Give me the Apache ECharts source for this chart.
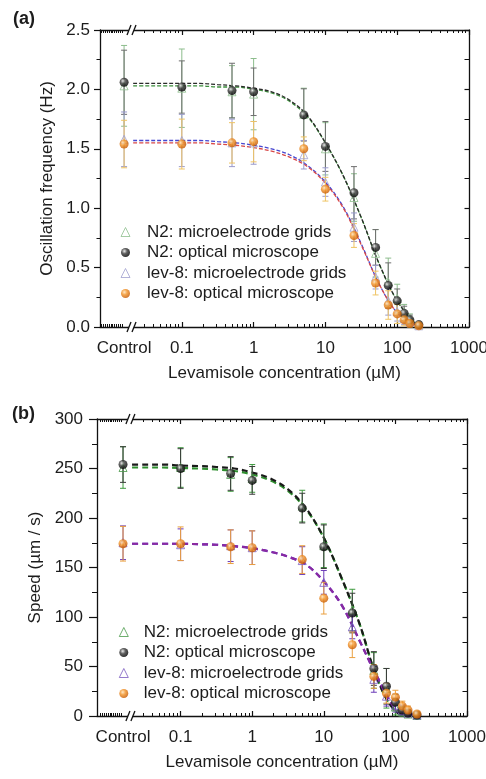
<!DOCTYPE html>
<html>
<head>
<meta charset="utf-8">
<script src="https://cdn.jsdelivr.net/npm/echarts@6/dist/echarts.min.js"></script>
<style>html,body{margin:0;padding:0;background:#fff}#c{width:486px;height:779px}</style>
</head>
<body>
<div id="c"></div>
<script>
// ---------------- data ----------------
const CONTROL = 0.0157;          // where "Control" sits on the log concentration axis
const conc = [CONTROL, 0.1, 0.5, 1, 5, 10, 25, 50, 75, 100, 125, 150, 200];
const fitConc = [0.021, 0.0316, 0.0562, 0.1, 0.178, 0.316, 0.562, 1, 1.78, 3.16, 5.62, 10, 17.8, 31.6, 56.2, 100, 178, 215];
const xTickVals = [CONTROL, 0.1, 1, 10, 100, 1000];
const xTickText = ['Control', '0.1', '1', '10', '100', '1000'];
const majorX = [0.1, 1, 10, 100, 1000];

const seriesNames = ['N2: microelectrode grids', 'N2: optical microscope', 'lev-8: microelectrode grids', 'lev-8: optical microscope'];

// (a) Oscillation frequency (Hz)
const freqN2Micro   = [2.03, 2.01, 1.98, 1.96, 1.79, 1.50, 1.09, 0.62, 0.38, 0.24, 0.12, 0.07, 0.02];
const freqN2MicroE  = [0.34, 0.33, 0.22, 0.30, 0.22, 0.22, 0.20, 0.20, 0.20, 0.12, 0.07, 0.04, 0.02];
const freqN2Opt     = [2.06, 2.02, 1.99, 1.98, 1.785, 1.52, 1.13, 0.67, 0.35, 0.22, 0.115, 0.06, 0.02];
const freqN2OptE    = [0.27, 0.22, 0.23, 0.20, 0.22, 0.21, 0.22, 0.15, 0.19, 0.10, 0.06, 0.04, 0.02];
const freqL8Micro   = [1.58, 1.57, 1.55, 1.55, 1.45, 1.22, 0.84, 0.42, 0.22, 0.13, 0.07, 0.04, 0.01];
const freqL8MicroE  = [0.23, 0.22, 0.20, 0.18, 0.12, 0.12, 0.12, 0.10, 0.12, 0.08, 0.05, 0.03, 0.02];
const freqL8Opt     = [1.54, 1.54, 1.55, 1.56, 1.50, 1.16, 0.77, 0.37, 0.185, 0.11, 0.06, 0.03, 0.01];
const freqL8OptE    = [0.20, 0.21, 0.17, 0.17, 0.10, 0.10, 0.10, 0.10, 0.12, 0.08, 0.05, 0.03, 0.02];
// fitted curves (a), read at fitConc
const freqFitN2Micro = [2.03, 2.03, 2.03, 2.03, 2.03, 2.02, 2.02, 2.00, 1.97, 1.90, 1.77, 1.55, 1.27, 0.92, 0.53, 0.22, 0.03, 0.0];
const freqFitN2Opt   = [2.05, 2.05, 2.05, 2.05, 2.05, 2.04, 2.03, 2.01, 1.98, 1.91, 1.78, 1.55, 1.27, 0.92, 0.53, 0.22, 0.03, 0.0];
const freqFitL8Micro = [1.57, 1.57, 1.57, 1.57, 1.57, 1.56, 1.55, 1.53, 1.50, 1.45, 1.36, 1.22, 1.01, 0.70, 0.36, 0.12, 0.02, 0.0];
const freqFitL8Opt   = [1.55, 1.55, 1.55, 1.55, 1.55, 1.54, 1.53, 1.51, 1.48, 1.43, 1.35, 1.21, 1.00, 0.69, 0.36, 0.12, 0.02, 0.0];

// (b) Speed (µm / s)
const spdN2Micro   = [251, 251, 244, 240, 212, 172, 107, 46, 28, 9, 4, 2, 0.5];
const spdN2MicroE  = [21, 20, 17, 14, 16, 22, 21, 18, 20, 8, 5, 3, 2];
const spdN2Opt     = [254, 250, 245, 238, 210, 171, 104, 48, 30, 14, 6, 3, 1];
const spdN2OptE    = [18, 20, 17, 14, 15, 22, 20, 17, 18, 8, 5, 3, 2];
const spdL8Micro   = [175, 173, 172, 170, 157, 135, 90, 37, 20, 11, 6, 3, 1];
const spdL8MicroE  = [17, 16, 16, 17, 14, 12, 12, 13, 10, 7, 5, 3, 2];
const spdL8Opt     = [174, 174, 171, 170, 158, 119, 72, 40, 23, 19, 10, 6, 2];
const spdL8OptE    = [17.5, 17, 17, 17, 14, 16, 13, 12, 10, 7, 5, 4, 2];
// fitted curves (b), read at fitConc
const spdFitN2Micro = [251, 251, 251, 250.5, 250, 249, 247.5, 244, 238, 227.5, 209, 180, 139, 93, 37, 5, 0, 0];
const spdFitN2Opt   = [254, 254, 254, 253, 252.5, 251.5, 250, 246, 240, 229, 210, 180, 139, 93, 37, 5, 0, 0];
const spdFitL8Micro = [174, 174, 174, 174, 173.5, 173, 171.5, 169.5, 166, 161, 153, 136, 112, 76, 39, 8, 1, 0];
const spdFitL8Opt   = [174, 174, 174, 174, 173.5, 173, 171.5, 169.5, 166, 161, 153, 136, 112, 76, 39, 8, 1, 0];

// ---------------- styling ----------------
const FONT = '"Liberation Sans", Arial, Helvetica, sans-serif';
const TXT = '#1c1c1c';
const AX = '#111';

const minorX = [];
[0.01, 0.1, 1, 10, 100].forEach(d => { for (let k = 2; k <= 9; k++) { const v = d * k; if (v > 0.025) minorX.push(v); } });
const breakTicks = [0.0076, 0.0081, 0.0086, 0.0091, 0.0097, 0.0103, 0.0109, 0.0116, 0.0123, 0.013, 0.0138, 0.0146];
const minorAll = breakTicks.concat(minorX);

function tickLabel(v) {
  for (let i = 0; i < xTickVals.length; i++) {
    if (Math.abs(Math.log10(v / xTickVals[i])) < 1e-3) return xTickText[i];
  }
  return '';
}

function xAxesFor(grid, min) {
  const base = { type: 'log', logBase: 10, gridIndex: grid, min: min, max: 1000, splitLine: { show: false }, minorSplitLine: { show: false } };
  const line = { show: true, lineStyle: { color: AX, width: 1.3 } };
  return [
    Object.assign({}, base, {
      position: 'bottom', axisLine: line,
      axisTick: { show: true, inside: true, length: 5, customValues: majorX, lineStyle: { color: AX, width: 1.2 } },
      axisLabel: { show: true, customValues: xTickVals, formatter: tickLabel, margin: 13, fontSize: 17, color: TXT, fontFamily: FONT },
      name: 'Levamisole concentration (µM)', nameLocation: 'middle', nameGap: 38, nameMoveOverlap: false,
      nameTextStyle: { fontSize: 17, color: TXT, fontFamily: FONT }
    }),
    Object.assign({}, base, {
      position: 'bottom', axisLine: { show: false },
      axisTick: { show: true, inside: true, length: 3, customValues: minorAll, lineStyle: { color: AX, width: 1 } },
      axisLabel: { show: false }
    }),
    Object.assign({}, base, {
      position: 'top', axisLine: line,
      axisTick: { show: true, inside: true, length: 5, customValues: majorX, lineStyle: { color: AX, width: 1.2 } },
      axisLabel: { show: false }
    }),
    Object.assign({}, base, {
      position: 'top', axisLine: { show: false },
      axisTick: { show: true, inside: true, length: 3, customValues: minorAll, lineStyle: { color: AX, width: 1 } },
      axisLabel: { show: false }
    })
  ];
}

function yAxesFor(grid, max, interval, name, nameGap, fmt, majLen, minLen, margin) {
  const line = { show: true, lineStyle: { color: AX, width: 1.3 } };
  return [
    {
      type: 'value', gridIndex: grid, min: 0, max: max, interval: interval, position: 'left',
      axisLine: line,
      axisTick: { show: true, inside: false, length: majLen, lineStyle: { color: AX, width: 1.2 } },
      minorTick: { show: true, splitNumber: 2, length: minLen, lineStyle: { color: AX, width: 1 } },
      splitLine: { show: false }, minorSplitLine: { show: false },
      axisLabel: { formatter: fmt, margin: margin, fontSize: 17, color: TXT, fontFamily: FONT },
      name: name, nameLocation: 'middle', nameRotate: 90, nameGap: nameGap, nameMoveOverlap: false,
      nameTextStyle: { fontSize: 17, color: TXT, fontFamily: FONT }
    },
    {
      type: 'value', gridIndex: grid, min: 0, max: max, interval: interval, position: 'right',
      axisLine: line,
      axisTick: { show: true, inside: true, length: 4.5, lineStyle: { color: AX, width: 1.2 } },
      minorTick: { show: true, splitNumber: 2, length: 4.5, lineStyle: { color: AX, width: 1 } },
      splitLine: { show: false }, minorSplitLine: { show: false },
      axisLabel: { show: false }
    }
  ];
}

function sphere(c0, c1, c2) {
  return { type: 'radial', x: 0.38, y: 0.35, r: 0.65, colorStops: [{ offset: 0, color: c0 }, { offset: 0.45, color: c1 }, { offset: 1, color: c2 }] };
}
const BLACK_SPHERE = sphere('#e8e8e8', '#3a3a3a', '#000');
const ORANGE_SPHERE = sphere('#ffe2b8', '#f29225', '#c85a00');

function errSeries(xi, yi, ys, es, color, capW, lw) {
  return {
    type: 'custom', xAxisIndex: xi, yAxisIndex: yi, z: 3, silent: true,
    data: conc.map((c, i) => [c, ys[i], es[i]]),
    encode: { x: 0, y: 1 },
    renderItem: function (params, api) {
      const x = api.value(0), y = api.value(1), e = api.value(2);
      const p1 = api.coord([x, y + e]);
      const p2 = api.coord([x, Math.max(0, y - e)]);
      const st = { stroke: color, lineWidth: lw };
      return {
        type: 'group', children: [
          { type: 'line', shape: { x1: p1[0], y1: p1[1], x2: p2[0], y2: p2[1] }, style: st },
          { type: 'line', shape: { x1: p1[0] - capW, y1: p1[1], x2: p1[0] + capW, y2: p1[1] }, style: st },
          { type: 'line', shape: { x1: p2[0] - capW, y1: p2[1], x2: p2[0] + capW, y2: p2[1] }, style: st }
        ]
      };
    }
  };
}

function fitSeries(xi, yi, ys, color, width, dash) {
  return {
    type: 'line', xAxisIndex: xi, yAxisIndex: yi, z: 2, silent: true,
    data: fitConc.map((c, i) => [c, ys[i]]),
    showSymbol: false, symbol: 'none', smooth: 0.35,
    lineStyle: { color: color, width: width, type: dash }
  };
}

function markerSeries(name, xi, yi, ys, kind, col, size) {
  const s = { type: 'scatter', name: name, xAxisIndex: xi, yAxisIndex: yi, data: conc.map((c, i) => [c, ys[i]]), symbolSize: size };
  if (kind === 'tri') {
    s.symbol = 'triangle'; s.z = 4;
    s.itemStyle = { color: 'rgba(255,255,255,0)', borderColor: col, borderWidth: 1 };
  } else {
    s.symbol = 'circle'; s.z = 5;
    s.itemStyle = { color: col };
  }
  return s;
}

function panelSeries(xi, yi, d, st, suffix) {
  const out = [];
  for (let k = 0; k < 4; k++) out.push(fitSeries(xi, yi, d.fit[k], st.fit[k], st.fitW, st.dash));
  for (let k = 0; k < 4; k++) out.push(errSeries(xi, yi, d.v[k], d.e[k], st.err[k], 3, 1));
  out.push(markerSeries(seriesNames[0] + suffix, xi, yi, d.v[0], 'tri', st.sym[0], 8));
  out.push(markerSeries(seriesNames[2] + suffix, xi, yi, d.v[2], 'tri', st.sym[2], 8));
  out.push(markerSeries(seriesNames[1] + suffix, xi, yi, d.v[1], 'ball', BLACK_SPHERE, 9));
  out.push(markerSeries(seriesNames[3] + suffix, xi, yi, d.v[3], 'ball', ORANGE_SPHERE, 9));
  return out;
}

const dataA = {
  v: [freqN2Micro, freqN2Opt, freqL8Micro, freqL8Opt],
  e: [freqN2MicroE, freqN2OptE, freqL8MicroE, freqL8OptE],
  fit: [freqFitN2Micro, freqFitN2Opt, freqFitL8Micro, freqFitL8Opt]
};
const dataB = {
  v: [spdN2Micro, spdN2Opt, spdL8Micro, spdL8Opt],
  e: [spdN2MicroE, spdN2OptE, spdL8MicroE, spdL8OptE],
  fit: [spdFitN2Micro, spdFitN2Opt, spdFitL8Micro, spdFitL8Opt]
};
const styleA = {
  err: ['#8dbd8d', '#6e6e6e', '#9a9acc', '#efc463'],
  sym: ['#8fbf8f', null, '#a0a0d0', null],
  fit: ['#3c8f3c', '#2a2a2a', '#4646d0', '#d84848'],
  fitW: 1.3, dash: [4, 2]
};
const styleB = {
  err: ['#3f9a3f', '#3a3a3a', '#6a3ab8', '#eaa040'],
  sym: ['#4a9a4a', null, '#7a5ac0', null],
  fit: ['#2f8f2f', '#1a1a1a', '#4a1ed0', '#8a2aa0'],
  fitW: 2.2, dash: [6, 4]
};

const legendBase = {
  orient: 'vertical', itemWidth: 9, itemHeight: 9, itemGap: 3.5, padding: 0, selectedMode: false,
  itemStyle: { borderWidth: 1 }
};

const option = {
  animation: false,
  backgroundColor: '#fff',
  textStyle: { fontFamily: FONT },
  grid: [
    { left: 100, right: 17, top: 30, height: 297, outerBoundsMode: 'none', containLabel: false },
    { left: 97, right: 19, top: 419, height: 297, outerBoundsMode: 'none', containLabel: false }
  ],
  xAxis: xAxesFor(0, 0.00725).concat(xAxesFor(1, 0.0068)),
  yAxis: yAxesFor(0, 2.5, 0.5, 'Oscillation frequency (Hz)', 44, v => v.toFixed(1), 6, 3.5, 10)
    .concat(yAxesFor(1, 300, 50, 'Speed (µm / s)', 53, v => String(v), 8, 5, 14)),
  legend: [
    Object.assign({}, legendBase, {
      left: 120.5, top: 223.5,
      textStyle: { fontSize: 17, color: TXT, fontFamily: FONT, padding: [0, 0, 0, 12] },
      data: [seriesNames[0], seriesNames[1], seriesNames[2], seriesNames[3]]
    }),
    Object.assign({}, legendBase, {
      left: 118.8, top: 623.5,
      textStyle: { fontSize: 17, color: TXT, fontFamily: FONT, padding: [0, 0, 0, 10.5] },
      data: seriesNames.map(n => n + ' ')
    })
  ],
  series: panelSeries(0, 0, dataA, styleA, '').concat(panelSeries(4, 2, dataB, styleB, ' '))
};

const chart = echarts.init(document.getElementById('c'), null, { renderer: 'canvas' });
chart.setOption(option);

// axis-break marks and panel letters
function breakMarks(xi, yi, yTop) {
  const bx = chart.convertToPixel({ xAxisIndex: xi }, 0.0196);
  const yb = chart.convertToPixel({ yAxisIndex: yi }, 0);
  const yt = chart.convertToPixel({ yAxisIndex: yi }, yTop);
  const els = [];
  [yb, yt].forEach(y => {
    els.push({ type: 'polygon', shape: { points: [[bx - 4, y + 5], [bx, y - 5], [bx + 5, y - 5], [bx + 1, y + 5]] }, style: { fill: '#fff' }, z: 100 });
    els.push({ type: 'line', shape: { x1: bx - 4, y1: y + 5, x2: bx, y2: y - 5 }, style: { stroke: AX, lineWidth: 1.3 }, z: 101 });
    els.push({ type: 'line', shape: { x1: bx + 1, y1: y + 5, x2: bx + 5, y2: y - 5 }, style: { stroke: AX, lineWidth: 1.3 }, z: 101 });
  });
  return els;
}
const gfx = breakMarks(0, 0, 2.5).concat(breakMarks(4, 2, 300));
gfx.push({ type: 'text', left: 13, top: 10, style: { text: '(a)', font: 'bold 18px ' + FONT, fill: TXT }, z: 100 });
gfx.push({ type: 'text', left: 12, top: 405, style: { text: '(b)', font: 'bold 18px ' + FONT, fill: TXT }, z: 100 });
chart.setOption({ graphic: gfx });
</script>
</body>
</html>
